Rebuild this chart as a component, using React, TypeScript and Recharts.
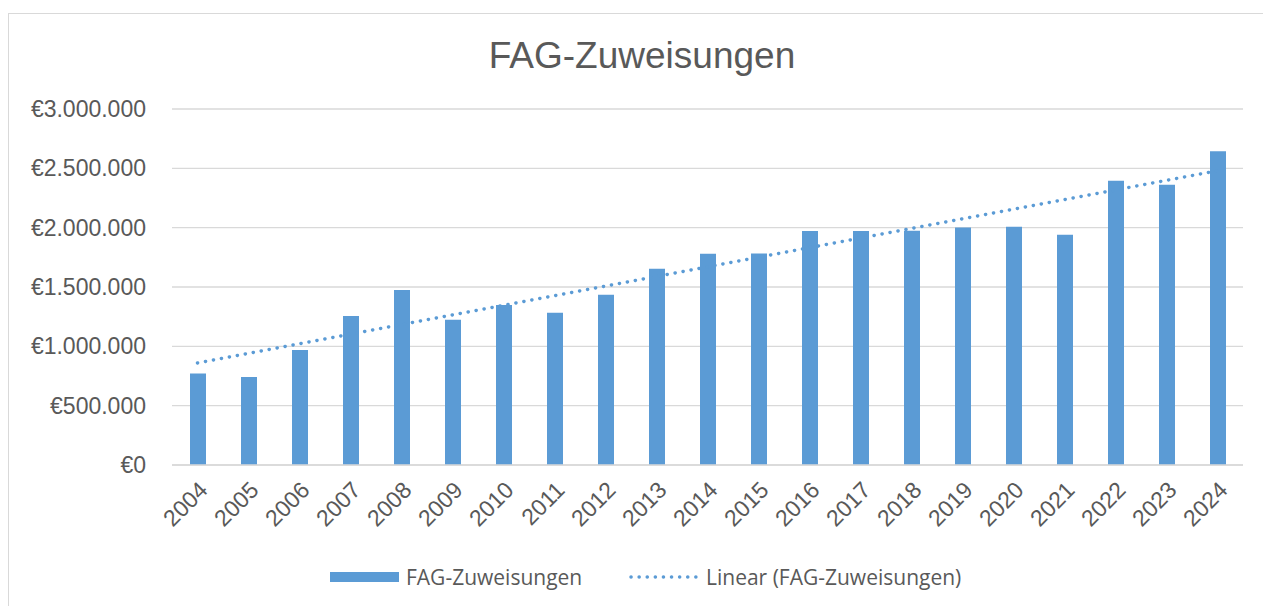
import React from 'react';
import { ComposedChart, Bar, Line, XAxis, YAxis, CartesianGrid, Legend } from 'recharts';

const years = ['2004','2005','2006','2007','2008','2009','2010','2011','2012','2013','2014','2015','2016','2017','2018','2019','2020','2021','2022','2023','2024'];
const fagValues = [772000, 741000, 969000, 1255000, 1475000, 1224000, 1348000, 1283000, 1435000, 1654000, 1781000, 1783000, 1972000, 1972000, 1974000, 2002000, 2008000, 1941000, 2396000, 2362000, 2643000];
const trendStart = 860000;
const trendEnd = 2480000;
const yTicks = [0, 500000, 1000000, 1500000, 2000000, 2500000, 3000000];

const data = years.map((y, i) => ({
  year: y,
  fag: fagValues[i],
  trend: i === 0 ? trendStart : i === years.length - 1 ? trendEnd : null,
}));

const BLUE = '#5B9BD5';
const TEXT = '#595959';

const fmtEuro = (v: number) => '€' + String(Math.round(v)).replace(/\B(?=(\d{3})+(?!\d))/g, '.');

const LegendContent = () => (
  <div style={{ position: 'relative', height: 51, fontFamily: '"Open Sans", sans-serif', fontSize: 21, color: TEXT }}>
    <div style={{ position: 'absolute', left: 308, top: 27, width: 69, height: 10, background: BLUE }} />
    <div style={{ position: 'absolute', left: 384, top: 19, lineHeight: '26px', whiteSpace: 'nowrap' }}>FAG-Zuweisungen</div>
    <svg style={{ position: 'absolute', left: 607, top: 27 }} width={72} height={10}>
      <line x1={2} y1={5} x2={70} y2={5} stroke={BLUE} strokeWidth={3.5} strokeDasharray="0.1 8" strokeLinecap="round" />
    </svg>
    <div style={{ position: 'absolute', left: 684, top: 19, lineHeight: '26px', whiteSpace: 'nowrap' }}>Linear (FAG-Zuweisungen)</div>
  </div>
);

export default function App() {
  return (
    <div style={{ position: 'absolute', left: 8, top: 13, width: 1263, height: 600, borderTop: '1px solid #d9d9d9', borderLeft: '1px solid #d9d9d9', background: '#fff', fontFamily: '"Liberation Sans", Arial, sans-serif' }}>
      <div style={{ position: 'absolute', left: 0, width: 1266, top: 23, textAlign: 'center', fontSize: 37, lineHeight: '37px', color: TEXT, fontFamily: '"Liberation Sans", Arial, sans-serif' }}>
        FAG-Zuweisungen
      </div>
      <ComposedChart width={1254} height={592} data={data} margin={{ top: 95, right: 20, bottom: 10, left: 13 }}>
        <CartesianGrid vertical={false} stroke="#d9d9d9" strokeWidth={1.3} />
        <XAxis
          dataKey="year"
          interval={0}
          height={80}
          tickLine={false}
          tickSize={0}
          tickMargin={15}
          axisLine={{ stroke: '#d9d9d9', strokeWidth: 1.3 }}
          tick={{ angle: -45, textAnchor: 'end', fill: TEXT, fontSize: 23, fontFamily: '"Liberation Sans", Arial, sans-serif' }}
        />
        <YAxis
          width={150}
          domain={[0, 3000000]}
          ticks={yTicks}
          tickFormatter={fmtEuro}
          axisLine={false}
          tickLine={false}
          tickSize={0}
          tickMargin={26}
          tick={{ fill: TEXT, fontSize: 23, fontFamily: '"Liberation Sans", Arial, sans-serif' }}
        />
        <Legend verticalAlign="bottom" height={51} content={<LegendContent />} />
        <Line dataKey="trend" name="Linear (FAG-Zuweisungen)" connectNulls dot={false} activeDot={false} stroke={BLUE} strokeWidth={3.5} strokeDasharray="0.1 8" strokeLinecap="round" isAnimationActive={false} />
        <Bar dataKey="fag" name="FAG-Zuweisungen" fill={BLUE} barSize={16} isAnimationActive={false} />
      </ComposedChart>
    </div>
  );
}
